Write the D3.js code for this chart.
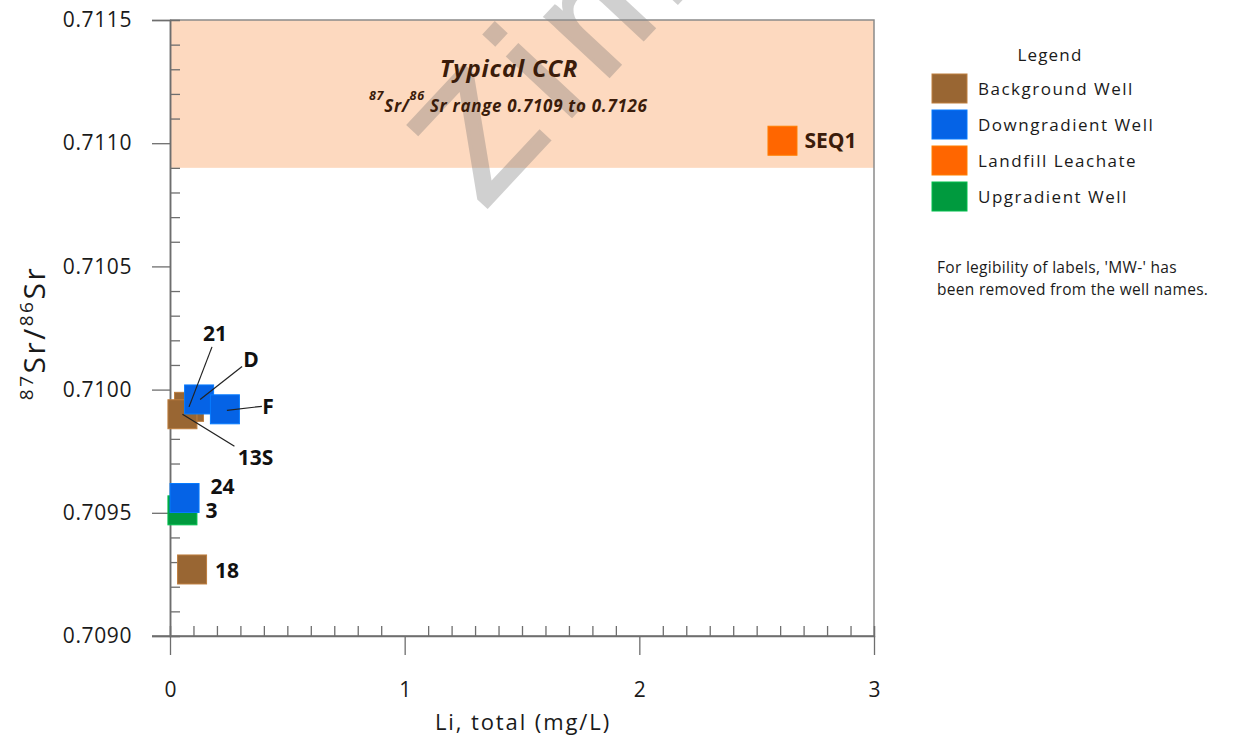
<!DOCTYPE html>
<html>
<head>
<meta charset="utf-8">
<script src="https://cdn.jsdelivr.net/npm/d3@7"></script>
<style>
  html, body { margin: 0; padding: 0; background: #fff; }
  svg { display: block; font-family: "Open Sans", sans-serif; }
</style>
</head>
<body>
<svg id="chart" width="1238" height="740"></svg>
<script>
// ---------------- data ----------------
const wells   = ["21", "13S", "18", "3", "SEQ1", "D", "F", "24"];
const groups  = ["Background Well", "Background Well", "Background Well", "Upgradient Well",
                 "Landfill Leachate", "Downgradient Well", "Downgradient Well", "Downgradient Well"];
const liTotal = [0.081, 0.053, 0.094, 0.053, 2.610, 0.124, 0.234, 0.062];
const srRatio = [0.70993, 0.70990, 0.70927, 0.70951, 0.71101, 0.70996, 0.70992, 0.70956];

const legendItems  = ["Background Well", "Downgradient Well", "Landfill Leachate", "Upgradient Well"];
const legendColors = ["#996633", "#0563e6", "#ff6600", "#009a3e"];

const xTicks = [0, 1, 2, 3];
const yTicks = [0.7090, 0.7095, 0.7100, 0.7105, 0.7110, 0.7115];
const yTickLabels = ["0.7090", "0.7095", "0.7100", "0.7105", "0.7110", "0.7115"];
const xMinor = d3.range(1, 30).filter(i => i % 10 !== 0).map(i => i / 10);
const yMinor = d3.range(7091, 7115).filter(i => i % 5 !== 0).map(i => i / 10000);

const ccrLow = 0.7109;   // typical CCR range lower bound (band drawn to top of plot)

// label layout (offsets in px from the marker centre)
const labelLayout = {
  "SEQ1": { dx: 22,   dy: 0,    anchor: "start" },
  "21":   { dx: 26,   dy: -73,  anchor: "middle", leader: [[23, -60], [0, 0]] },
  "D":    { dx: 52,   dy: -40,  anchor: "middle", leader: [[43, -33], [1, 0]] },
  "F":    { dx: 43,   dy: -3,   anchor: "middle", leader: [[37, -3], [2, 1]] },
  "13S":  { dx: 73,   dy: 43,   anchor: "middle", leader: [[52, 32], [0, 0]] },
  "24":   { dx: 38,   dy: -12,  anchor: "middle" },
  "3":    { dx: 29,   dy: 0,    anchor: "middle" },
  "18":   { dx: 35,   dy: 1,    anchor: "middle" }
};

// ---------------- layout ----------------
const svg = d3.select("#chart");
const m = { left: 170, right: 874, top: 20, bottom: 636 };
const x = d3.scaleLinear().domain([0, 3]).range([m.left, m.right]);
const y = d3.scaleLinear().domain([0.7090, 0.7115]).range([m.bottom, m.top]);
const color = d3.scaleOrdinal().domain(legendItems).range(legendColors);
const axisColor = "#6e6e6e";
const MS = 29; // marker size

// CCR band
svg.append("rect")
  .attr("x", x(0)).attr("y", y(0.7115))
  .attr("width", x(3) - x(0)).attr("height", y(ccrLow) - y(0.7115))
  .attr("fill", "#fdd9bf");

// watermark
svg.append("text")
  .attr("transform", "translate(484,210) rotate(-47)")
  .attr("font-size", 164)
  .attr("font-family", "Liberation Sans, Arial, sans-serif")
  .attr("letter-spacing", 18)
  .attr("fill", "#707070").attr("stroke", "#707070").attr("stroke-width", 4)
  .attr("opacity", 0.32)
  .text("Zim");

// border (top, right)
svg.append("path")
  .attr("d", `M${x(0)},${y(0.7115)}H${x(3)}V${y(0.7090)}`)
  .attr("fill", "none").attr("stroke", "#8a8a8a").attr("stroke-width", 1.5);

// CCR annotation
const ann = svg.append("g").attr("fill", "#3b1c0a").attr("font-weight", "bold").attr("font-style", "italic");
ann.append("text").attr("x", 509).attr("y", 77).attr("text-anchor", "middle")
  .attr("font-size", 24).attr("letter-spacing", 0.8).text("Typical CCR");
const sub = ann.append("text").attr("x", 369).attr("y", 112).attr("font-size", 17).attr("letter-spacing", 0.7);
sub.append("tspan").attr("font-size", 12.5).attr("dy", -12).text("87");
sub.append("tspan").attr("dy", 12).text("Sr/");
sub.append("tspan").attr("font-size", 12.5).attr("dy", -12).text("86");
sub.append("tspan").attr("dy", 12).text(" Sr range 0.7109 to 0.7126");

// axes
const gy = svg.append("g").attr("transform", `translate(${m.left},0)`)
  .call(d3.axisLeft(y).tickValues(yTicks).tickFormat((d, i) => yTickLabels[i]).tickSize(18).tickPadding(20));
const gyMinor = svg.append("g").attr("transform", `translate(${m.left},0)`)
  .call(d3.axisRight(y).tickValues(yMinor).tickSize(10).tickFormat(""));
const gx = svg.append("g").attr("transform", `translate(0,${m.bottom})`)
  .call(d3.axisBottom(x).tickValues(xTicks).tickFormat(d3.format("d")).tickSize(19).tickPadding(27));
const gxMinor = svg.append("g").attr("transform", `translate(0,${m.bottom})`)
  .call(d3.axisTop(x).tickValues(xMinor).tickSize(10).tickFormat(""));

[gy, gyMinor, gx, gxMinor].forEach(g => {
  g.selectAll("path.domain").attr("stroke", axisColor).attr("stroke-width", 1.5);
  g.selectAll(".tick line").attr("stroke", axisColor).attr("stroke-width", 1.3);
  g.selectAll(".tick text").attr("font-family", "Open Sans, sans-serif")
    .attr("font-size", 21).attr("fill", "#1a1a1a");
});
gy.selectAll(".tick text").attr("letter-spacing", 0.6);
// extend x domain line left to meet 0.7090 tick
gx.select("path.domain").attr("d", `M${m.left - 18},0H${m.right}`);

// axis titles
svg.append("text").attr("x", 523).attr("y", 730).attr("text-anchor", "middle")
  .attr("font-size", 22).attr("letter-spacing", 1.9).attr("fill", "#1a1a1a")
  .text("Li, total (mg/L)");

const yt = svg.append("text")
  .attr("transform", "translate(45,333) rotate(-90)")
  .attr("text-anchor", "middle").attr("font-size", 30).attr("letter-spacing", 2.5).attr("fill", "#1a1a1a");
yt.append("tspan").attr("font-size", 19).attr("dy", -12).text("87");
yt.append("tspan").attr("dy", 12).text("Sr");
yt.append("tspan").text("/");
yt.append("tspan").attr("font-size", 19).attr("dy", -12).text("86");
yt.append("tspan").attr("dy", 12).text("Sr");

// markers (draw order: background, upgradient, landfill, downgradient)
const drawOrder = ["Background Well", "Upgradient Well", "Landfill Leachate", "Downgradient Well"];
const pts = wells.map((w, i) => ({ well: w, group: groups[i], li: liTotal[i], sr: srRatio[i] }))
  .sort((a, b) => drawOrder.indexOf(a.group) - drawOrder.indexOf(b.group));

svg.append("g").selectAll("rect").data(pts).join("rect")
  .attr("x", d => x(d.li) - MS / 2).attr("y", d => y(d.sr) - MS / 2)
  .attr("width", MS).attr("height", MS)
  .attr("fill", d => color(d.group))
  .attr("stroke", d => d3.color(color(d.group)).brighter(0.6))
  .attr("stroke-width", 1);

// leader lines
const leaders = pts.filter(d => labelLayout[d.well].leader);
svg.append("g").selectAll("line").data(leaders).join("line")
  .attr("x1", d => x(d.li) + labelLayout[d.well].leader[0][0])
  .attr("y1", d => y(d.sr) + labelLayout[d.well].leader[0][1])
  .attr("x2", d => x(d.li) + labelLayout[d.well].leader[1][0])
  .attr("y2", d => y(d.sr) + labelLayout[d.well].leader[1][1])
  .attr("stroke", "#222").attr("stroke-width", 1.2);

// labels
svg.append("g").selectAll("text").data(pts).join("text")
  .attr("x", d => x(d.li) + labelLayout[d.well].dx)
  .attr("y", d => y(d.sr) + labelLayout[d.well].dy)
  .attr("dy", "0.36em")
  .attr("text-anchor", d => labelLayout[d.well].anchor)
  .attr("font-size", 21).attr("font-weight", "bold")
  .attr("fill", d => d.well === "SEQ1" ? "#3b1c0a" : "#111")
  .text(d => d.well);

// legend
const lg = svg.append("g");
lg.append("text").attr("x", 1050).attr("y", 61).attr("text-anchor", "middle")
  .attr("font-size", 17).attr("letter-spacing", 1.2).attr("fill", "#1a1a1a").text("Legend");
const rows = lg.selectAll("g.row").data(legendItems).join("g").attr("class", "row")
  .attr("transform", (d, i) => `translate(932,${74 + i * 36})`);
rows.append("rect").attr("width", 35).attr("height", 29)
  .attr("fill", d => color(d))
  .attr("stroke", d => d3.color(color(d)).brighter(0.6)).attr("stroke-width", 1);
rows.append("text").attr("x", 46).attr("y", 15).attr("dy", "0.36em")
  .attr("font-size", 17).attr("letter-spacing", 1.5).attr("fill", "#1a1a1a").text(d => d);

// note
const note = svg.append("text").attr("x", 937).attr("font-size", 15.5).attr("letter-spacing", 0.3).attr("fill", "#1a1a1a");
note.append("tspan").attr("x", 937).attr("y", 273).text("For legibility of labels, 'MW-' has");
note.append("tspan").attr("x", 937).attr("y", 295).text("been removed from the well names.");
</script>
</body>
</html>
